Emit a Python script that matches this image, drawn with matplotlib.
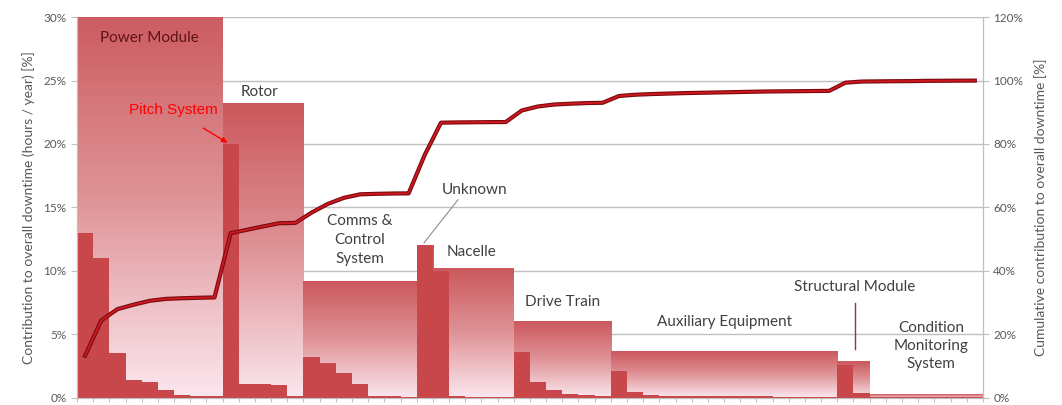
"""
Subsystem / component downtime contribution with cumulative curve.
"""

import numpy as np
import matplotlib
matplotlib.use('Agg')
import matplotlib.pyplot as plt
from matplotlib.colors import LinearSegmentedColormap

plt.rcParams['font.family'] = ['Lato', 'DejaVu Sans']

# --- data: component contributions [% of overall downtime] per subsystem --- #
subsystems = ['Power Module', 'Rotor', 'Comms & Control System', 'Unknown', 'Nacelle',
              'Drive Train', 'Auxiliary Equipment', 'Structural Module',
              'Condition Monitoring System']
power_module = [13.0, 11.0, 3.5, 1.4, 1.2, 0.6, 0.2, 0.15, 0.1]
rotor = [20.0, 1.05, 1.05, 1.0, 0.1]
comms_control = [3.2, 2.7, 1.9, 1.1, 0.15, 0.1, 0.05]
unknown = [12.0]
nacelle = [10.0, 0.08, 0.05, 0.04, 0.03]
drive_train = [3.6, 1.25, 0.6, 0.25, 0.2, 0.1]
auxiliary = [2.1, 0.4, 0.2, 0.15, 0.15, 0.1, 0.1, 0.1, 0.1, 0.1, 0.05, 0.05, 0.05, 0.05]
structural = [2.55, 0.35]
condition_mon = [0.06, 0.05, 0.03, 0.07, 0.04, 0.03, 0.02]

groups = [power_module, rotor, comms_control, unknown, nacelle,
          drive_train, auxiliary, structural, condition_mon]

components = np.concatenate(groups)
n_comp = len(components)
cumulative = np.cumsum(components) / components.sum() * 100

grid_col = '#BFBFBF'
txt_col = '#404040'
tick_col = '#595959'

fig = plt.figure(figsize=(10.62, 4.05), dpi=100)
ax = fig.add_axes([0.0725, 0.0185, 0.853, 0.939])

grad_cmap = LinearSegmentedColormap.from_list('bar_grad', ['#CB585C', '#DF9498', '#FCE7EF'])
grad = np.linspace(0, 1, 256).reshape(-1, 1)

# subsystem bars (gradient) with component bars on top
start = 0
for g in groups:
    end = start + len(g)
    ax.imshow(grad, extent=[start, end, 0, sum(g)], aspect='auto', cmap=grad_cmap,
              origin='upper', zorder=2, interpolation='bilinear')
    start = end

ax.bar(np.arange(n_comp) + 0.5, components, width=1.0, color='#C8474B', zorder=3, linewidth=0)

ax.set_xlim(0, n_comp)
ax.set_ylim(0, 30)
ax.set_yticks(np.arange(0, 31, 5))
ax.set_yticklabels(['%d%%' % v for v in range(0, 31, 5)])
ax.set_xticks(np.arange(0, n_comp + 1))
ax.set_xticklabels([])
ax.yaxis.grid(True, color=grid_col, linewidth=1.0, zorder=0)
ax.set_axisbelow(True)
ax.tick_params(axis='y', colors=grid_col, labelcolor=tick_col, labelsize=8.5, length=4)
ax.tick_params(axis='x', colors=grid_col, length=3)
for s in ['left', 'right', 'bottom']:
    ax.spines[s].set_color(grid_col)
ax.spines['top'].set_visible(False)
ax.set_ylabel('Contribution to overall downtime (hours / year) [%]', color=tick_col, fontsize=10, labelpad=6)

# cumulative curve
ax2 = ax.twinx()
ax2.plot(np.arange(n_comp) + 0.5, cumulative, color='#7A0A0E', linewidth=3.0, zorder=5, solid_joinstyle='round')
ax2.plot(np.arange(n_comp) + 0.5, cumulative, color='#CC1820', linewidth=1.4, zorder=6, solid_joinstyle='round')
ax2.set_ylim(0, 120)
ax2.set_yticks(np.arange(0, 121, 20))
ax2.set_yticklabels(['%d%%' % v for v in range(0, 121, 20)])
ax2.tick_params(axis='y', colors=grid_col, labelcolor=tick_col, labelsize=8.5, length=4)
for s in ['left', 'right', 'bottom']:
    ax2.spines[s].set_color(grid_col)
ax2.spines['top'].set_visible(False)
ax2.set_ylabel('Cumulative contribution to overall downtime [%]', color=tick_col, fontsize=10,
               rotation=90, labelpad=8)

# labels
ax.text(4.5, 28.35, 'Power Module', ha='center', va='center', fontsize=11, color='#5E1517', zorder=7)
ax.text(11.3, 24.1, 'Rotor', ha='center', va='center', fontsize=11, color=txt_col, zorder=7)
ax.text(17.5, 12.4, 'Comms &\nControl\nSystem', ha='center', va='center', fontsize=11,
        color=txt_col, linespacing=1.45, zorder=7)
ax.text(24.6, 16.4, 'Unknown', ha='center', va='center', fontsize=11, color=txt_col, zorder=7)
ax.plot([23.55, 21.45], [15.6, 12.2], color='#8C8C8C', linewidth=0.8, zorder=7)
ax.text(24.4, 11.5, 'Nacelle', ha='center', va='center', fontsize=11, color=txt_col, zorder=7)
ax.text(30.0, 7.5, 'Drive Train', ha='center', va='center', fontsize=11, color=txt_col, zorder=7)
ax.text(40.05, 5.95, 'Auxiliary Equipment', ha='center', va='center', fontsize=11, color=txt_col, zorder=7)
ax.text(48.1, 8.7, 'Structural Module', ha='center', va='center', fontsize=11, color=txt_col, zorder=7)
ax.plot([48.1, 48.1], [7.45, 3.8], color='#7F3F3F', linewidth=1.0, zorder=7)
ax.text(52.8, 4.06, 'Condition\nMonitoring\nSystem', ha='center', va='center', fontsize=11,
        color=txt_col, linespacing=1.35, zorder=7)

ax.annotate('Pitch System', xy=(9.3, 20.1), xytext=(5.93, 22.7), ha='center', va='center',
            fontsize=11, color='#FF0000', family='Liberation Sans', zorder=8,
            arrowprops=dict(arrowstyle='-|>', color='#FF0000', lw=1.0, mutation_scale=8,
                            shrinkA=12, shrinkB=0))

fig.savefig('out.png', dpi=100)
